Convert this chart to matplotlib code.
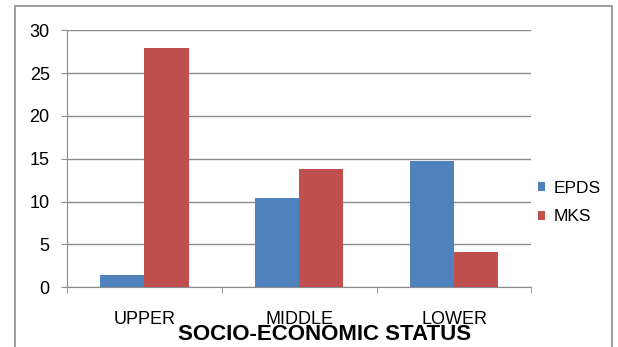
import matplotlib.pyplot as plt
from matplotlib.patches import Rectangle
import numpy as np

plt.rcParams['font.family'] = ['Liberation Sans', 'DejaVu Sans']

# datos
categorias = ['UPPER', 'MIDDLE', 'LOWER']
epds = [1.4, 10.4, 14.7]
mks = [27.9, 13.8, 4.15]

fig = plt.figure(figsize=(6.18, 3.47), dpi=100)
ax = fig.add_axes([0.108, 0.172, 0.752, 0.7407])

# marco exterior del grafico
fig.patches.append(Rectangle((15 / 618, -0.05), 597 / 618, 1 - 5.5 / 347 + 0.05,
                             transform=fig.transFigure, fill=False,
                             edgecolor='#8c8c8c', linewidth=1.2))

x = np.arange(len(categorias))
w = 0.286
ax.bar(x - w / 2, epds, w, color='#4F81BD', label='EPDS', zorder=3)
ax.bar(x + w / 2, mks, w, color='#C0504D', label='MKS', zorder=3)

ax.set_xlim(-0.5, 2.5)
ax.set_ylim(0, 30)
ax.set_yticks(range(0, 31, 5))
ax.yaxis.grid(True, color='#8c8c8c', linewidth=1.0, zorder=0)

for s in ['top', 'right']:
    ax.spines[s].set_visible(False)
ax.spines['left'].set_color('#8c8c8c')
ax.spines['bottom'].set_color('#8c8c8c')

ax.set_xticks(x)
ax.set_xticklabels(categorias, fontsize=13)
ax.tick_params(axis='x', length=0, pad=17)
ax.set_xticks([-0.5, 0.5, 1.5, 2.5], minor=True)
ax.tick_params(axis='x', which='minor', length=4.3, color='#8c8c8c')
ax.tick_params(axis='y', length=4.3, color='#8c8c8c', labelsize=13, pad=8)

fig.text(0.525, 0.035, 'SOCIO-ECONOMIC STATUS', fontsize=16, fontweight='bold',
         ha='center', va='center')

ax.legend(loc='center left', bbox_to_anchor=(1.0, 0.33), frameon=False,
          borderaxespad=0, fontsize=12.5, handlelength=0.4, handleheight=0.4,
          handletextpad=0.5, labelspacing=0.8)

plt.savefig('out.png', dpi=100)
